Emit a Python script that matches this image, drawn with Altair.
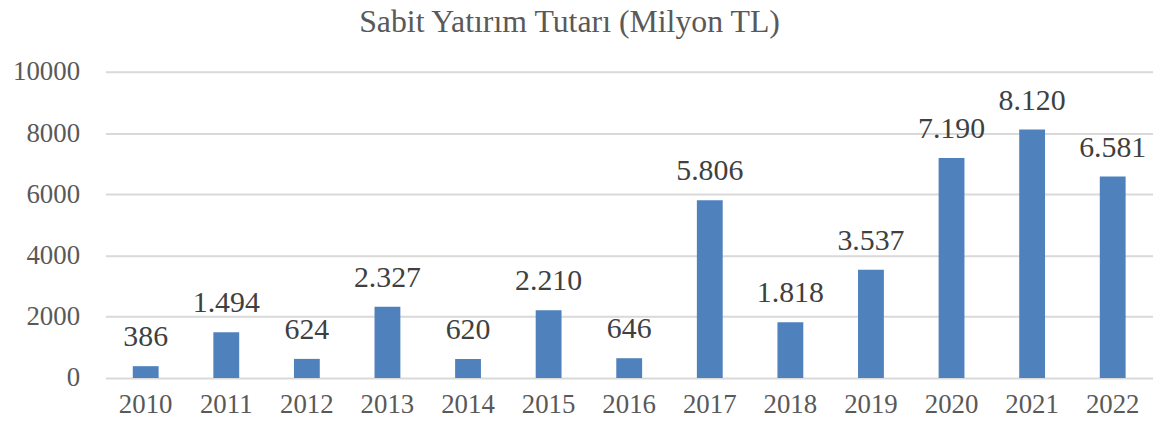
import altair as alt
import pandas as pd

years = ["2010", "2011", "2012", "2013", "2014", "2015", "2016",
         "2017", "2018", "2019", "2020", "2021", "2022"]
values = [386, 1494, 624, 2327, 620, 2210, 646, 5806, 1818, 3537, 7190, 8120, 6581]

df = pd.DataFrame({"year": years, "value": values})
df["label"] = [f"{v:,}".replace(",", ".") for v in values]

FONT = "Liberation Serif"
TXT = "#595959"

x = alt.X("year:N", sort=years, title=None,
          scale=alt.Scale(paddingInner=0.68, paddingOuter=0.34),
          axis=alt.Axis(labelAngle=0, labelFont=FONT, labelFontSize=27,
                        labelColor=TXT, ticks=False, domain=False,
                        labelPadding=14))
y = alt.Y("value:Q", title=None,
          scale=alt.Scale(domain=[0, 10000]),
          axis=alt.Axis(values=[0, 2000, 4000, 6000, 8000, 10000], format="d",
                        labelFont=FONT, labelFontSize=27, labelColor=TXT,
                        ticks=False, domain=False, labelPadding=26,
                        gridColor="#D9D9D9", gridWidth=2))

base = alt.Chart(df).encode(x=x, y=y)
bars = base.mark_bar(color="#4F81BD", size=26)
text = base.mark_text(baseline="bottom", dy=-14, font=FONT, fontSize=30,
                      color="#404040").encode(text="label:N")

chart = (bars + text).properties(
    width=1054, height=308,
    title=alt.TitleParams("Sabit Yatırım Tutarı (Milyon TL)", font=FONT,
                          fontSize=32, fontWeight="normal", color=TXT,
                          anchor="middle", dx=-60, offset=19),
    autosize=alt.AutoSizeParams(type="none"),
    padding={"left": 98, "top": 63, "right": 0, "bottom": 40},
).configure_view(stroke=None)

chart.save("out.html", embed_options={"renderer": "svg", "actions": False})
